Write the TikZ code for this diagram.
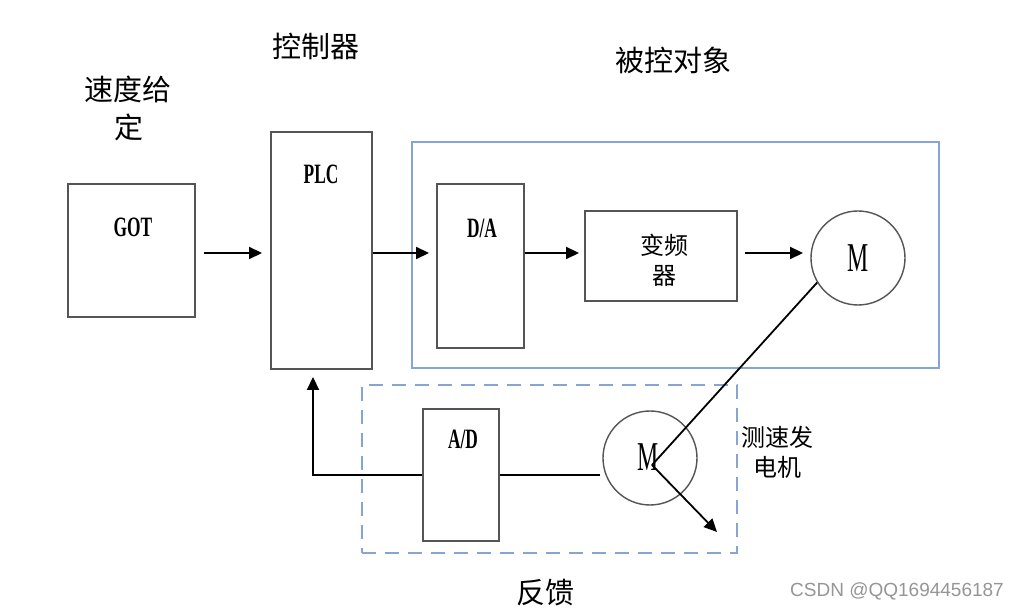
\documentclass[tikz,border=0pt]{standalone}
\usepackage{fontspec}
\setmainfont{Liberation Serif}
\newfontfamily\cjk{Noto Sans CJK SC}
\newfontfamily\wmfont{Liberation Sans}
\usetikzlibrary{arrows.meta}
\definecolor{frameblue}{RGB}{135,165,210}
\definecolor{boxgray}{RGB}{85,85,85}
\definecolor{wmgray}{RGB}{150,150,150}
\newcommand{\latl}[1]{\scalebox{0.62}[1]{\fontsize{28}{32}\selectfont\bfseries #1}}
\newcommand{\motorm}[1]{\scalebox{0.58}[1]{\fontsize{41}{44}\selectfont #1}}
\begin{document}
\begin{tikzpicture}[x=1pt,y=-1pt,
  box/.style={draw=boxgray,line width=1.6pt,inner sep=0pt,fill=white},
  motor/.style={draw=boxgray,circle,line width=1.4pt,minimum size=94pt,inner sep=0pt},
  flow/.style={line width=2.2pt,-{Triangle[length=13pt,width=12pt]}},
  wire/.style={line width=2.2pt},
  bigcn/.style={font=\cjk\fontsize{29}{36}\selectfont,inner sep=0pt,align=center},
  smallcn/.style={font=\cjk\fontsize{24}{30}\selectfont,inner sep=0pt,align=center},
  lbl/.style={inner sep=0pt}]
\useasboundingbox (0,0) rectangle (1021,609);
\fill[white] (0,0) rectangle (1021,609);
% titles
\node[bigcn] (t1a) at (128,89) {速度给};
\node[bigcn] (t1b) at (129,127) {定};
\node[bigcn] (t2) at (316,46) {控制器};
\node[bigcn] (t3) at (673,60) {被控对象};
\node[bigcn] (t4) at (545,593) {反馈};
% frames
\node[draw=frameblue,line width=2pt,minimum width=527pt,minimum height=226pt,inner sep=0pt] (plant) at (675,255) {};
\node[draw=frameblue,line width=2pt,dash pattern=on 14pt off 9pt,minimum width=375pt,minimum height=168pt,inner sep=0pt] (fb) at (549,469) {};
% boxes
\node[box,minimum width=127pt,minimum height=133pt] (got) at (131.5,250.5) {};
\node[lbl] (gott) at (133,227) {\latl{GOT}};
\node[box,minimum width=101pt,minimum height=237pt] (plc) at (321.5,250.5) {};
\node[lbl] (plct) at (321,174) {\latl{PLC}};
\node[box,minimum width=87pt,minimum height=164pt] (da) at (480.5,266) {};
\node[lbl] (dat) at (482,228) {\latl{D/A}};
\node[box,minimum width=152pt,minimum height=90pt] (vf) at (661,256) {};
\node[smallcn] (vft) at (664,260) {变频\\器};
\node[box,minimum width=76pt,minimum height=132pt] (ad) at (461,475) {};
\node[lbl] (adt) at (463,439) {\latl{A/D}};
\node[motor] (m1) at (858,258) {\motorm{M}};
\node[motor] (m2) at (650,458) {};
\node[lbl] (m2t) at (648,457) {\motorm{M}};
\node[smallcn] (tg) at (777,452) {测速发\\电机};
% coordinates
\coordinate (a1s) at (204,253);
\coordinate (a1e) at (262,253);
\coordinate (a2e) at (429,253);
\coordinate (a3e) at (579,253);
\coordinate (a4s) at (745,253);
\coordinate (a4e) at (803,253);
\coordinate (hub) at (652,465);
\coordinate (tip) at (717,532);
\coordinate (gen) at (600,475);
\coordinate (corner) at (313,475);
\coordinate (up) at (313,377);
% connectors
\draw[flow] (a1s) -- (a1e);
\draw[flow] (plc.east |- a2e) -- (a2e);
\draw[flow] (da.east |- a3e) -- (a3e);
\draw[flow] (a4s) -- (a4e);
\draw[wire,line width=1.8pt] (m1.211) -- (hub);
\draw[flow,line width=1.8pt] (hub) -- (tip);
\draw[wire] (ad.east) -- (gen);
\draw[flow] (ad.west) -- (corner) -- (up);
% watermark
\node[lbl,text=wmgray,font=\wmfont\fontsize{19}{22}\selectfont] (wm) at (897,591) {CSDN @QQ1694456187};
\end{tikzpicture}
\end{document}
